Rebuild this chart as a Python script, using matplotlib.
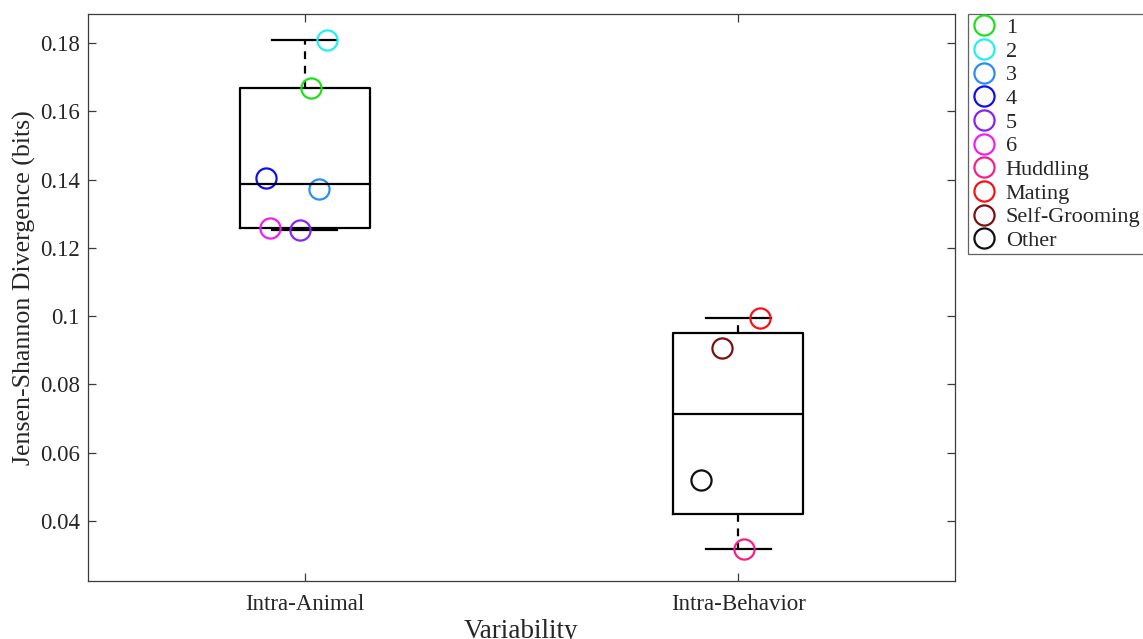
import numpy as np
import matplotlib
matplotlib.use('Agg')
import matplotlib.pyplot as plt

plt.rcParams['font.family'] = ['Liberation Serif', 'DejaVu Serif']

# groups on the x axis
groups = ['Intra-Animal', 'Intra-Behavior']

# Jensen-Shannon divergence per animal (intra-animal group)
animal_labels = ['1', '2', '3', '4', '5', '6']
animal_jsd = [0.1668, 0.1809, 0.1372, 0.1405, 0.1252, 0.1258]
animal_jitter = [0.014, 0.051, 0.032, -0.090, -0.012, -0.081]
animal_colors = ['#1fe01f', '#22f0f0', '#2a8cf5', '#1010e8', '#8a22f0', '#f01ef0']

# Jensen-Shannon divergence per behavior (intra-behavior group)
behavior_labels = ['Huddling', 'Mating', 'Self-Grooming', 'Other']
behavior_jsd = [0.0318, 0.0995, 0.0907, 0.0520]
behavior_jitter = [0.014, 0.051, -0.037, -0.085]
behavior_colors = ['#f5208a', '#f51414', '#7a1010', '#101010']


def box_stats(values, pos):
    # quartiles the way MATLAB computes them (hazen plotting positions)
    q1, med, q3 = np.percentile(values, [25, 50, 75], method='hazen')
    return dict(med=med, q1=q1, q3=q3, whislo=min(values), whishi=max(values),
                fliers=[], label=groups[pos - 1])


fig = plt.figure(figsize=(11.43, 6.39), dpi=100)
ax = fig.add_axes([0.077, 0.0908, 0.7585, 0.8872])

stats = [box_stats(animal_jsd, 1), box_stats(behavior_jsd, 2)]
ax.bxp(stats, positions=[1, 2], widths=0.3, capwidths=0.15, showfliers=False,
       boxprops=dict(color='black', linewidth=1.6),
       medianprops=dict(color='black', linewidth=1.6),
       whiskerprops=dict(color='black', linewidth=1.6, linestyle=(0, (3.5, 3))),
       capprops=dict(color='black', linewidth=1.6))

for lab, val, dx, col in zip(animal_labels, animal_jsd, animal_jitter, animal_colors):
    ax.plot(1 + dx, val, 'o', ms=14.5, mfc='none', mec=col, mew=1.6, label=lab)
for lab, val, dx, col in zip(behavior_labels, behavior_jsd, behavior_jitter, behavior_colors):
    ax.plot(2 + dx, val, 'o', ms=14.5, mfc='none', mec=col, mew=1.6, label=lab)

ax.set_xlim(0.5, 2.5)
ax.set_ylim(0.0224, 0.1885)
ax.set_yticks([0.04, 0.06, 0.08, 0.1, 0.12, 0.14, 0.16, 0.18])
ax.set_yticklabels(['%g' % t for t in ax.get_yticks()])
ax.set_xticks([1, 2])
ax.set_xticklabels(groups)

ax.tick_params(direction='in', top=True, right=True, length=6, width=0.9,
               colors='#3a3a3a', labelcolor='#262626', labelsize=16.5)
ax.tick_params(axis='y', pad=6)
ax.tick_params(axis='x', pad=9.5)
for sp in ax.spines.values():
    sp.set_color('#3a3a3a')
    sp.set_linewidth(0.9)

ax.set_ylabel('Jensen-Shannon Divergence (bits)', fontsize=18.6, color='#262626')
ax.yaxis.set_label_coords(-0.060, 0.517)
ax.set_xlabel('Variability', fontsize=19.5, color='#262626', labelpad=2.5)

leg = ax.legend(loc='upper left', bbox_to_anchor=(1.015, 1.0), fontsize=16,
                frameon=True, fancybox=False, edgecolor='#3a3a3a', borderpad=0.15,
                labelspacing=0.14, handlelength=1.1, handletextpad=0.45,
                borderaxespad=0)
leg.get_frame().set_linewidth(0.9)
for t in leg.get_texts():
    t.set_color('#262626')

fig.savefig('out.png', dpi=100)
